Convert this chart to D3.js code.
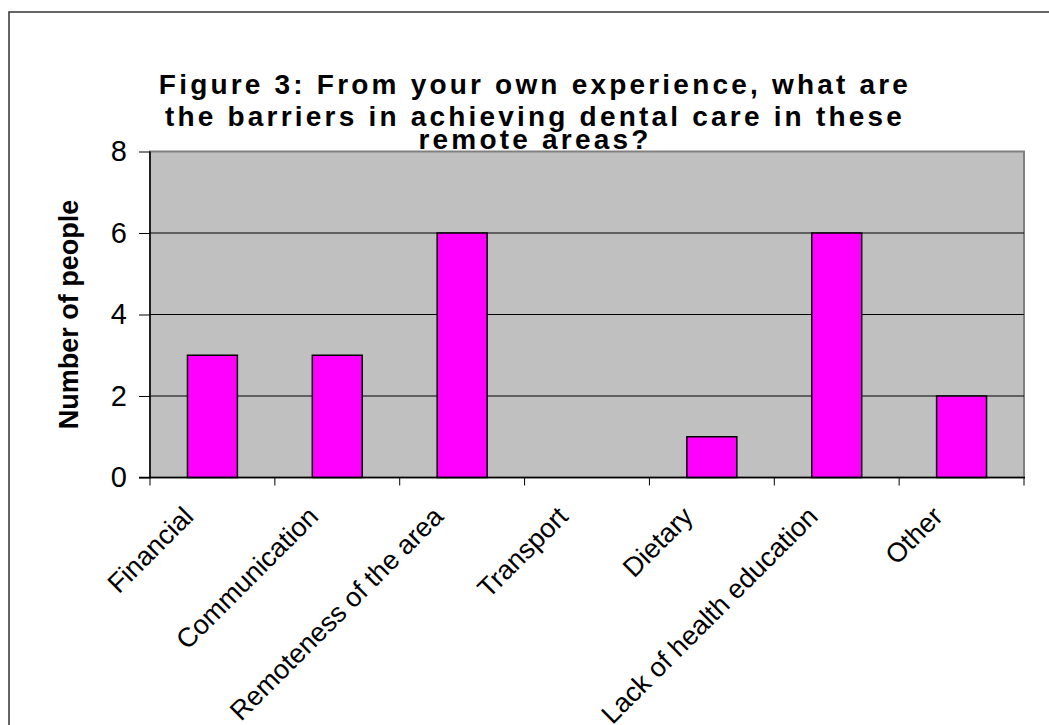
<!DOCTYPE html>
<html>
<head>
<meta charset="utf-8">
<script src="https://cdn.jsdelivr.net/npm/d3@7"></script>
<style>
  body { margin: 0; background: #fff; }
  svg { display: block; font-family: Arial, "Liberation Sans", sans-serif; }
</style>
</head>
<body>
<svg id="svg1" width="1049" height="725"></svg>
<script>
var categories = ['Financial', 'Communication', 'Remoteness of the area', 'Transport',
                  'Dietary', 'Lack of health education', 'Other'];
var values = [3, 3, 6, 0, 1, 6, 2];
var yTicks = [0, 2, 4, 6, 8];
var titleLines = ['Figure 3: From your own experience, what are',
                  'the barriers in achieving dental care in these',
                  'remote areas?'];

var marginLeft = 150;
var marginTop = 151.5;
var plotW = 874;
var plotH = 326;

var svg = d3.select('svg');

// outer frame, cut off at right and bottom like the original
svg.append('rect')
   .attr('x', 9).attr('y', 12)
   .attr('width', 1100).attr('height', 800)
   .attr('fill', 'none')
   .attr('stroke', '#333')
   .attr('stroke-width', 1.5);

var titleY = [94, 126, 149];
svg.append('g')
   .selectAll('text')
   .data(titleLines)
   .enter()
   .append('text')
   .attr('x', 535)
   .attr('y', function(d, i) { return titleY[i]; })
   .attr('text-anchor', 'middle')
   .attr('font-size', '28px')
   .attr('font-weight', 'bold')
   .attr('letter-spacing', '3.2px')
   .attr('fill', '#000')
   .text(function(d) { return d; });

var g = svg.append('g')
    .attr('transform', 'translate(' + marginLeft + ',' + marginTop + ')');

var x = d3.scaleBand().domain(categories).range([0, plotW]).paddingInner(0.6).paddingOuter(0.3);
var xTick = d3.scaleBand().domain(categories).range([0, plotW]);
var y = d3.scaleLinear().domain([0, 8]).range([plotH, 0]);

g.append('rect')
 .attr('width', plotW).attr('height', plotH)
 .attr('fill', '#c0c0c0')
 .attr('stroke', '#808080')
 .attr('stroke-width', 2);

g.append('g')
 .selectAll('line')
 .data(yTicks.slice(1, -1))
 .enter()
 .append('line')
 .attr('x1', 0).attr('x2', plotW)
 .attr('y1', function(d) { return y(d); })
 .attr('y2', function(d) { return y(d); })
 .attr('stroke', '#000')
 .attr('stroke-width', 1);

g.append('g')
 .selectAll('rect')
 .data(values)
 .enter()
 .append('rect')
 .attr('x', function(d, i) { return x(categories[i]); })
 .attr('width', x.bandwidth())
 .attr('y', function(d) { return y(d); })
 .attr('height', function(d) { return plotH - y(d); })
 .attr('fill', '#ff00ff')
 .attr('stroke', '#000')
 .attr('stroke-width', 1.5)
 .attr('display', function(d) { return d > 0 ? null : 'none'; });

// y axis
var yAxis = g.append('g')
    .call(d3.axisLeft(y).tickValues(yTicks).tickSize(11).tickPadding(12).tickFormat(d3.format('d')));
yAxis.select('.domain').attr('stroke', '#000').attr('stroke-width', 1.5).attr('d', 'M0,0V' + plotH);
yAxis.selectAll('text').attr('font-size', '29px').attr('font-family', 'Arial, "Liberation Sans", sans-serif').attr('fill', '#000');

// x axis
var xAxis = g.append('g')
    .attr('transform', 'translate(0,' + plotH + ')');
xAxis.append('line')
     .attr('x1', -11).attr('x2', plotW + 1)
     .attr('stroke', '#000').attr('stroke-width', 1.5);
xAxis.selectAll('line.tick')
     .data(categories.concat(['end']))
     .enter()
     .append('line')
     .attr('class', 'tick')
     .attr('x1', function(d, i) { return i * xTick.bandwidth(); })
     .attr('x2', function(d, i) { return i * xTick.bandwidth(); })
     .attr('y1', 0).attr('y2', 8)
     .attr('stroke', '#000');

xAxis.selectAll('text')
     .data(categories)
     .enter()
     .append('text')
     .attr('transform', function(d) {
        return 'translate(' + (xTick(d) + xTick.bandwidth() / 2 - 24) + ',34) rotate(-45)';
     })
     .attr('text-anchor', 'end')
     .attr('dy', '0.35em')
     .attr('font-size', '27px')
     .attr('fill', '#000')
     .text(function(d) { return d; });

svg.append('text')
   .attr('transform', 'translate(78,' + (marginTop + plotH / 2) + ') rotate(-90)')
   .attr('text-anchor', 'middle')
   .attr('font-size', '27px')
   .attr('font-weight', 'bold')
   .text('Number of people');
</script>
</body>
</html>
